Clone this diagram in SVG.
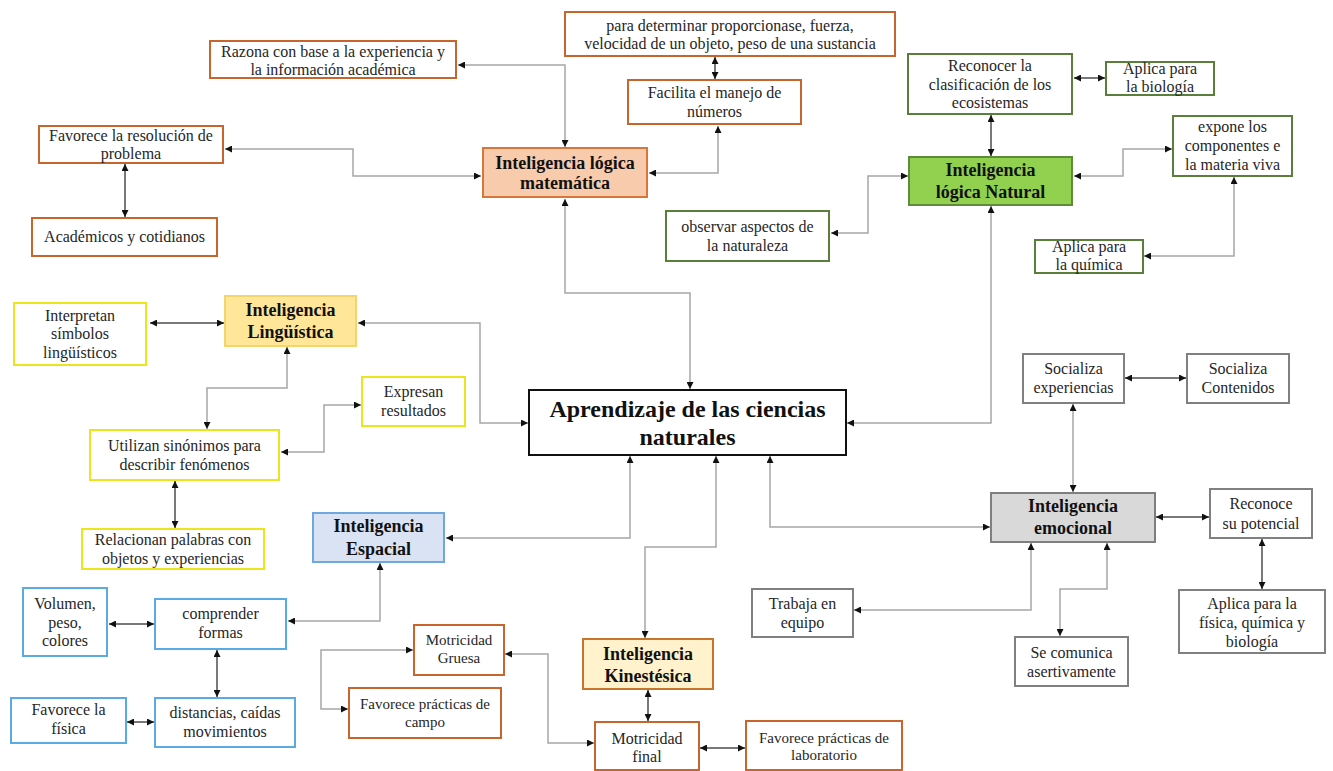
<svg xmlns="http://www.w3.org/2000/svg" width="1333" height="771" viewBox="0 0 1333 771">
<defs>
<marker id="a" viewBox="0 0 10 10" refX="10" refY="5" markerWidth="8" markerHeight="7" markerUnits="userSpaceOnUse" orient="auto-start-reverse"><path d="M0,0 L10,5 L0,10 z" fill="#111"/></marker>
<style>
rect{stroke-width:2;fill:#fff}
.or{stroke:#C8642C}
.gr{stroke:#5A7F3A}
.ye{stroke:#EDE51C}
.bl{stroke:#5AAAE3}
.gy{stroke:#808080}
text{font-family:"Liberation Serif","Times New Roman",serif;font-size:16px;fill:#262626;text-anchor:middle}
.b{font-weight:bold;font-size:18px;fill:#111}
.s{font-size:15px}
.c path{fill:none;stroke-width:1.5;marker-start:url(#a);marker-end:url(#a)}
.lt{stroke:#A6A6A6}
.dk{stroke:#4D4D4D}
</style>
</defs>
<rect width="1333" height="771" style="fill:#fff;stroke:none"/>
<g id="connectors" class="c">
<path class="lt" d="M458,65 H565 V147"/>
<path class="dk" d="M715,57 V79"/>
<path class="lt" d="M718,126 V173 H649"/>
<path class="lt" d="M225,149 H353 V176 H481"/>
<path class="dk" d="M125,164 V217"/>
<path class="lt" d="M565,199 V293 H690 V389"/>
<path class="dk" d="M991,115 V156"/>
<path class="dk" d="M1074,78 H1105"/>
<path class="lt" d="M1074,176 H1123 V149 H1172"/>
<path class="lt" d="M1234,177 V256 H1144"/>
<path class="lt" d="M831,233 H868 V176 H908"/>
<path class="lt" d="M991,206 V423 H847"/>
<path class="dk" d="M150,323 H224"/>
<path class="lt" d="M358,323 H480 V423 H528"/>
<path class="lt" d="M287,347 V388 H207 V429"/>
<path class="lt" d="M281,452 H324 V405 H361"/>
<path class="dk" d="M175,481 V528"/>
<path class="lt" d="M630,456 V538 H446"/>
<path class="lt" d="M380,563 V621 H288"/>
<path class="dk" d="M109,624 H154"/>
<path class="dk" d="M217,650 V697"/>
<path class="dk" d="M127,722 H154"/>
<path class="lt" d="M716,456 V547 H645 V638"/>
<path class="dk" d="M648,690 V721"/>
<path class="dk" d="M700,748 H745"/>
<path class="lt" d="M505,654 H548 V743 H594"/>
<path class="lt" d="M413,650 H321 V709 H348"/>
<path class="lt" d="M770,456 V527 H990"/>
<path class="lt" d="M1031,543 V610 H854"/>
<path class="lt" d="M1107,543 V589 H1060 V636"/>
<path class="dk" d="M1156,517 H1209"/>
<path class="dk" d="M1262,539 V589"/>
<path class="lt" d="M1073,404 V492"/>
<path class="dk" d="M1125,378 H1186"/>
</g>
<g id="razona"><rect class="or" x="210" y="41" width="246" height="37"/><text x="333" y="57">Razona con base a la experiencia y</text><text x="333" y="75">la información académica</text></g>
<g id="determinar"><rect class="or" x="565" y="12" width="330" height="44"/><text x="730" y="31">para determinar proporcionase, fuerza,</text><text x="730" y="49">velocidad  de un objeto, peso de una sustancia</text></g>
<g id="facilita"><rect class="or" x="628" y="80" width="173" height="44"/><text x="714.5" y="98">Facilita  el manejo de</text><text x="714.5" y="117">números</text></g>
<g id="matematica"><rect style="fill:#F8CBAD;stroke:#D9773A" x="483" y="148" width="164" height="49"/><text class="b" x="565" y="169">Inteligencia lógica</text><text class="b" x="565" y="189">matemática</text></g>
<g id="resolucion"><rect class="or" x="39" y="126" width="184" height="37"/><text x="131" y="141">Favorece la resolución de</text><text x="131" y="159">problema</text></g>
<g id="academicos"><rect class="or" x="32" y="218" width="185" height="38"/><text x="124.5" y="242">Académicos y cotidianos</text></g>
<g id="reconocer"><rect class="gr" x="908" y="54" width="164" height="60"/><text x="990" y="70.5">Reconocer la</text><text x="990" y="89.5">clasificación  de los</text><text x="990" y="108">ecosistemas</text></g>
<g id="biologia"><rect class="gr" x="1106" y="62" width="108" height="33"/><text x="1160" y="74">Aplica para</text><text x="1160" y="92">la biología</text></g>
<g id="expone"><rect class="gr" x="1173" y="116" width="119" height="60"/><text x="1232.5" y="132">expone los</text><text x="1232.5" y="151">componentes e</text><text x="1232.5" y="170">la materia viva</text></g>
<g id="natural"><rect style="fill:#92D050;stroke:#5E8C3A" x="909" y="157" width="163" height="48"/><text class="b" x="990.5" y="176">Inteligencia</text><text class="b" x="990.5" y="198">lógica Natural</text></g>
<g id="observar"><rect class="gr" x="666" y="211" width="163" height="50"/><text x="747.5" y="232">observar aspectos de</text><text x="747.5" y="251">la naturaleza</text></g>
<g id="quimica"><rect class="gr" x="1035" y="240" width="108" height="33"/><text x="1089" y="252">Aplica para</text><text x="1089" y="270">la química</text></g>
<g id="interpretan"><rect class="ye" x="14" y="303" width="132" height="62"/><text x="80" y="320.5">Interpretan</text><text x="80" y="339">símbolos</text><text x="80" y="357.5">lingüísticos</text></g>
<g id="linguistica"><rect style="fill:#FFE699;stroke:#F2D56B" x="225" y="296" width="131" height="50"/><text class="b" x="290.5" y="315.5">Inteligencia</text><text class="b" x="290.5" y="337.5">Lingüística</text></g>
<g id="expresan"><rect class="ye" x="362" y="377" width="103" height="49"/><text x="413.5" y="396.5">Expresan</text><text x="413.5" y="415.5">resultados</text></g>
<g id="utilizan"><rect class="ye" x="90" y="430" width="189" height="50"/><text x="184.5" y="451">Utilizan  sinónimos para</text><text x="184.5" y="470">describir  fenómenos</text></g>
<g id="relacionan"><rect class="ye" x="82" y="529" width="182" height="40"/><text x="173" y="545">Relacionan palabras con</text><text x="173" y="564">objetos y experiencias</text></g>
<g id="espacial"><rect style="fill:#DAE3F3;stroke:#6FA8DC" x="313" y="513" width="131" height="49"/><text class="b" x="378.5" y="532">Inteligencia</text><text class="b" x="378.5" y="554.5">Espacial</text></g>
<g id="volumen"><rect class="bl" x="23" y="588" width="84" height="68"/><text x="65" y="608.5">Volumen,</text><text x="65" y="627.5">peso,</text><text x="65" y="646">colores</text></g>
<g id="comprender"><rect class="bl" x="155" y="599" width="131" height="50"/><text x="220.5" y="619">comprender</text><text x="220.5" y="638">formas</text></g>
<g id="fisica"><rect class="bl" x="11" y="698" width="115" height="45"/><text x="68.5" y="715">Favorece la</text><text x="68.5" y="734">física</text></g>
<g id="distancias"><rect class="bl" x="155" y="698" width="140" height="49"/><text x="225" y="718">distancias, caídas</text><text x="225" y="736.5">movimientos</text></g>
<g id="gruesa"><rect class="or" x="414" y="625" width="90" height="50"/><text class="s" x="459" y="645">Motricidad</text><text class="s" x="459" y="663">Gruesa</text></g>
<g id="campo"><rect class="or" x="349" y="688" width="152" height="50"/><text class="s" x="425" y="709">Favorece prácticas de</text><text class="s" x="425" y="727">campo</text></g>
<g id="kinestesica"><rect style="fill:#FFF2CC;stroke:#C8742F" x="583" y="639" width="130" height="50"/><text class="b" x="648" y="659.5">Inteligencia</text><text class="b" x="648" y="681.5">Kinestésica</text></g>
<g id="final"><rect class="or" x="595" y="722" width="104" height="48"/><text x="647" y="743.5">Motricidad</text><text x="647" y="761.5">final</text></g>
<g id="laboratorio"><rect class="or" x="746" y="721" width="156" height="49"/><text class="s" x="824" y="742.5">Favorece prácticas de</text><text class="s" x="824" y="760">laboratorio</text></g>
<g id="trabaja"><rect class="gy" x="752" y="589" width="101" height="48"/><text x="802.5" y="609">Trabaja  en</text><text x="802.5" y="628">equipo</text></g>
<g id="aprendizaje"><rect style="stroke:#111" x="529" y="390" width="317" height="65"/><text class="b" style="font-size:24px" x="687.5" y="417">Aprendizaje de las ciencias</text><text class="b" style="font-size:24px" x="687.5" y="445">naturales</text></g>
<g id="socializa-exp"><rect class="gy" x="1023" y="354" width="101" height="49"/><text x="1073.5" y="373.5">Socializa</text><text x="1073.5" y="392.5">experiencias</text></g>
<g id="socializa-cont"><rect class="gy" x="1187" y="354" width="102" height="49"/><text x="1238" y="373.5">Socializa</text><text x="1238" y="392.5">Contenidos</text></g>
<g id="emocional"><rect style="fill:#D9D9D9;stroke:#7F7F7F" x="991" y="493" width="164" height="49"/><text class="b" x="1073" y="512">Inteligencia</text><text class="b" x="1073" y="534">emocional</text></g>
<g id="reconoce"><rect class="gy" x="1210" y="489" width="102" height="49"/><text x="1261" y="508.5">Reconoce</text><text x="1261" y="529">su potencial</text></g>
<g id="aplica-fqb"><rect class="gy" x="1179" y="590" width="146" height="63"/><text x="1252" y="608.5">Aplica para la</text><text x="1252" y="627.5">física, química y</text><text x="1252" y="646.5">biología</text></g>
<g id="comunica"><rect class="gy" x="1015" y="637" width="113" height="49"/><text x="1071.5" y="657.5">Se comunica</text><text x="1071.5" y="676.5">asertivamente</text></g>
</svg>
